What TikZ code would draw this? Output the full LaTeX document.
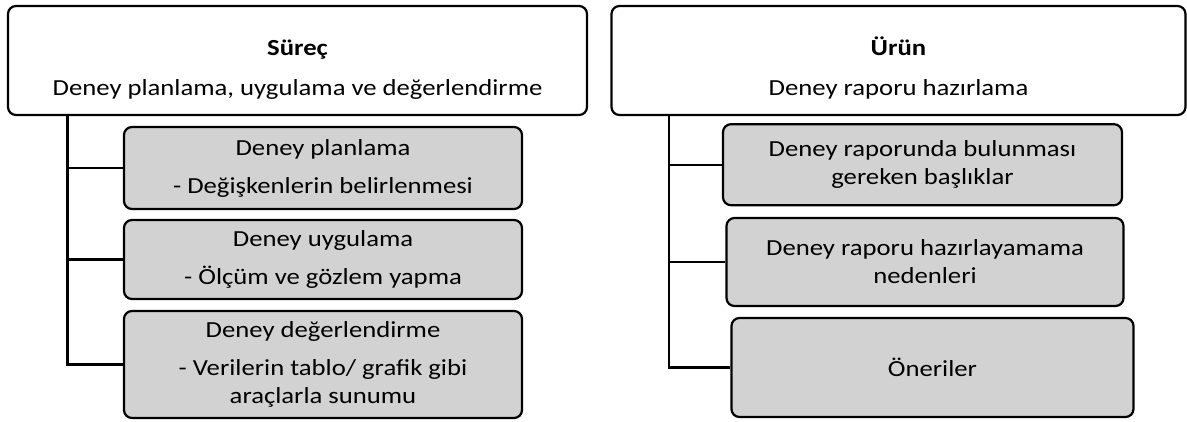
\documentclass[tikz,border=0pt]{standalone}
\usepackage{fontspec}
\setmainfont{Carlito}[FakeStretch=1.16]
\usetikzlibrary{positioning}

\tikzset{
  topbox/.style={draw, line width=2.2pt, rounded corners=8pt, fill=white, align=center, inner sep=2pt},
  subbox/.style={draw, line width=2.2pt, rounded corners=8pt, fill=boxgray, align=center, inner sep=2pt},
  tree/.style={line width=2.4pt}
}
\definecolor{boxgray}{RGB}{210,210,210}

\begin{document}
\begin{tikzpicture}[x=1pt,y=-1pt,font=\fontsize{23}{28}\selectfont]
			\useasboundingbox (0,0) rectangle (1187,421);
			\node[topbox, minimum width=579pt, minimum height=109pt] (proc) at (297.5,60.5) {\rule{0pt}{34pt}\textbf{Süreç}\\[12pt]Deney planlama, uygulama ve değerlendirme};
			\node[subbox, minimum width=398pt, minimum height=82pt] (plan) at (323,168) {Deney planlama\\[10pt]- Değişkenlerin belirlenmesi};
			\node[subbox, minimum width=398pt, minimum height=79pt] (apply) at (323,259.5) {Deney uygulama\\[10pt]- Ölçüm ve gözlem yapma};
			\node[subbox, minimum width=398pt, minimum height=107pt] (eval) at (323,364.5) {Deney değerlendirme\\[10pt]- Verilerin tablo/ grafik gibi\\araçlarla sunumu};
			\node[topbox, minimum width=574pt, minimum height=109pt] (prod) at (898.5,60.5) {\rule{0pt}{34pt}\textbf{Ürün}\\[12pt]Deney raporu hazırlama};
			\node[subbox, minimum width=399pt, minimum height=81pt] (heads) at (922.5,164.7) {Deney raporunda bulunması\\gereken başlıklar};
			\node[subbox, minimum width=397pt, minimum height=88pt] (why) at (925,262) {Deney raporu hazırlayamama\\nedenleri};
			\node[subbox, minimum width=402pt, minimum height=99pt] (tips) at (932.5,367.5) {Öneriler};
			\coordinate (ltrunk) at (67.5,0);
			\coordinate (rtrunk) at (669,0);
			\draw[tree] (proc.south -| ltrunk) |- (eval.west);
			\draw[tree] (ltrunk |- plan.west) -- (plan.west);
			\draw[tree] (ltrunk |- apply.west) -- (apply.west);
			\draw[tree] (prod.south -| rtrunk) |- (tips.west);
			\draw[tree] (rtrunk |- heads.west) -- (heads.west);
			\draw[tree] (rtrunk |- why.west) -- (why.west);
		\end{tikzpicture}
\end{document}
